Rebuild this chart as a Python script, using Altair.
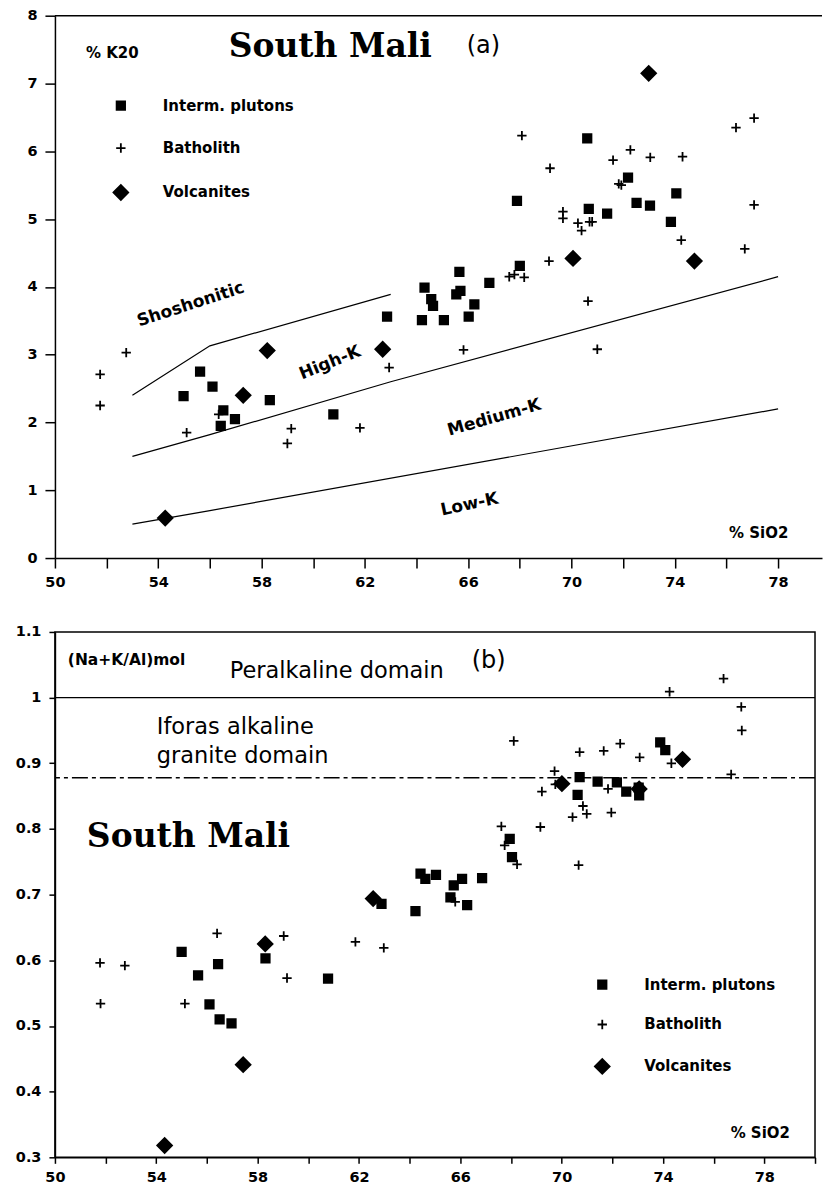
import altair as alt
import pandas as pd

GROUPS = ["Interm. plutons", "Batholith", "Volcanites"]

# ---------------- Panel (a): K2O vs SiO2 ----------------
a_plut_si = [54.98, 55.62, 56.10, 56.52, 56.42, 56.97, 58.32, 60.78, 62.86, 64.31,
             64.57, 64.64, 64.21, 65.06, 65.54, 65.70, 65.66, 66.02, 66.24, 66.82,
             68.00, 67.89, 70.61, 70.67, 71.38, 72.19, 72.52, 73.04, 74.06, 73.85]
a_plut_k = [2.39, 2.75, 2.53, 2.18, 1.95, 2.05, 2.33, 2.12, 3.56, 3.99,
            3.82, 3.72, 3.51, 3.51, 3.89, 3.94, 4.22, 3.56, 3.74, 4.06,
            4.31, 5.27, 6.19, 5.15, 5.08, 5.61, 5.24, 5.20, 5.38, 4.96]
a_bath_si = [51.75, 51.75, 52.76, 55.10, 56.34, 59.15, 59.00, 61.81, 62.94, 65.82,
             67.59, 67.79, 68.17, 68.08, 69.13, 69.17, 69.67, 69.67, 70.25, 70.39,
             70.70, 70.80, 70.64, 71.00, 71.61, 71.83, 71.93, 72.28, 73.05, 74.30,
             74.25, 76.37, 77.07, 77.07, 76.71]
a_bath_k = [2.71, 2.25, 3.03, 1.85, 2.12, 1.91, 1.69, 1.92, 2.81, 3.07,
            4.15, 4.18, 4.14, 6.23, 4.38, 5.75, 5.11, 5.01, 4.94, 4.83,
            4.96, 4.96, 3.79, 3.08, 5.87, 5.52, 5.50, 6.02, 5.91, 5.92,
            4.69, 6.35, 6.49, 5.21, 4.56]
a_volc_si = [54.27, 57.29, 58.22, 62.69, 70.06, 72.99, 74.76]
a_volc_k = [0.59, 2.40, 3.06, 3.08, 4.42, 7.15, 4.38]

# series boundaries (a)
shosh_si = [53, 56, 63]
shosh_k = [2.40, 3.13, 3.89]
highk_si = [53, 56, 63, 78]
highk_k = [1.50, 1.82, 2.60, 4.15]
medk_si = [53, 56, 78]
medk_k = [0.50, 0.70, 2.20]

# ---------------- Panel (b): (Na+K)/Al vs SiO2 ----------------
b_plut_si = [55.00, 55.65, 56.44, 56.10, 56.50, 56.97, 58.31, 60.78, 62.89, 64.23,
             64.43, 64.62, 65.04, 66.07, 66.86, 65.74, 65.61, 66.27, 67.95, 68.04,
             70.63, 70.71, 71.42, 72.18, 72.55, 73.06, 73.04, 73.89, 74.09]
b_plut_r = [0.613, 0.577, 0.594, 0.533, 0.510, 0.504, 0.603, 0.572, 0.686, 0.675,
            0.732, 0.724, 0.730, 0.724, 0.725, 0.714, 0.696, 0.684, 0.785, 0.757,
            0.852, 0.879, 0.872, 0.871, 0.857, 0.851, 0.863, 0.932, 0.920]
b_bath_si = [51.78, 51.80, 52.76, 55.13, 56.40, 59.03, 59.16, 61.86, 62.98, 65.80,
             67.62, 67.75, 68.24, 68.11, 69.16, 69.22, 69.72, 69.75, 70.43, 70.71,
             70.84, 70.99, 70.67, 71.66, 71.83, 71.96, 72.31, 73.08, 74.33, 74.26,
             76.39, 76.69, 77.09, 77.11]
b_bath_r = [0.596, 0.534, 0.592, 0.534, 0.641, 0.637, 0.573, 0.628, 0.619, 0.689,
            0.804, 0.775, 0.746, 0.934, 0.803, 0.857, 0.888, 0.868, 0.818, 0.917,
            0.835, 0.823, 0.745, 0.919, 0.861, 0.825, 0.930, 0.909, 0.900, 1.009,
            1.029, 0.883, 0.986, 0.950]
b_volc_si = [54.33, 57.43, 58.30, 62.56, 70.01, 73.06, 74.77]
b_volc_r = [0.318, 0.441, 0.625, 0.694, 0.869, 0.861, 0.906]

peralk_limit = 1.0
iforas_limit = 0.878

a_xticks = list(range(50, 80, 2))
b_xticks = list(range(50, 81, 2))
a_yticks = list(range(0, 9))
b_yticks = [0.3, 0.4, 0.5, 0.6, 0.7, 0.8, 0.9, 1.0, 1.1]

# ---------------- helpers ----------------
def points_df(sets):
    rows = []
    for g, xs, ys in sets:
        for x, y in zip(xs, ys):
            rows.append({"si": x, "v": y, "group": g})
    return pd.DataFrame(rows)

FONT = "DejaVu Sans"
SERIF = "DejaVu Serif"

shape_scale = alt.Scale(domain=GROUPS,
                        range=["M-0.47,-0.47H0.47V0.47H-0.47Z",
                               "M-0.52,0H0.52M0,-0.52V0.52",
                               "M-0.82,0L0,-0.82L0.82,0L0,0.82Z"])
fill_scale = alt.Scale(domain=GROUPS, range=["black", "transparent", "black"])
stroke_scale = alt.Scale(domain=GROUPS, range=["black", "black", "black"])


def make_panel(df_pts, xdom, ydom, xticks, yticks, yfmt,
               leg_x, leg_y, leg_row, xtick_len, xlab_pad, ytick_len, ylab_pad, yext):
    X = alt.X("si:Q", scale=alt.Scale(domain=xdom, nice=False, zero=False),
              axis=alt.Axis(values=xticks, labelExpr="datum.value % 4 == 2 ? datum.label : ''",
                            title=None, grid=False, tickSize=xtick_len, labelPadding=xlab_pad,
                            format="d", labelFlush=False))
    Y = alt.Y("v:Q", scale=alt.Scale(domain=ydom, nice=False, zero=False),
              axis=alt.Axis(values=yticks, title=None, grid=False, tickSize=ytick_len,
                            labelPadding=ylab_pad, format=yfmt, minExtent=yext, maxExtent=yext))

    def leg():
        return alt.Legend(title=None, orient="none", legendX=leg_x, legendY=leg_y,
                          labelFont=FONT, labelFontWeight="bold", labelFontSize=15,
                          labelColor="black", labelOffset=32, rowPadding=leg_row,
                          symbolSize=324, symbolStrokeWidth=1.8, labelLimit=300)

    pts = alt.Chart(df_pts).mark_point(strokeWidth=1.8, opacity=1, fillOpacity=1,
                                       size=324).encode(
        x=X, y=Y,
        shape=alt.Shape("group:N", scale=shape_scale, legend=leg()),
        fill=alt.Fill("group:N", scale=fill_scale, legend=leg()),
        stroke=alt.Stroke("group:N", scale=stroke_scale, legend=leg()),
    )
    return X, Y, pts


# ---------------- Panel (a) ----------------
df_a = points_df([(GROUPS[0], a_plut_si, a_plut_k),
                  (GROUPS[1], a_bath_si, a_bath_k),
                  (GROUPS[2], a_volc_si, a_volc_k)])
lines_a = pd.DataFrame(
    [{"si": x, "v": y, "line": "shosh"} for x, y in zip(shosh_si, shosh_k)] +
    [{"si": x, "v": y, "line": "highk"} for x, y in zip(highk_si, highk_k)] +
    [{"si": x, "v": y, "line": "medk"} for x, y in zip(medk_si, medk_k)])

Xa, Ya, pts_a = make_panel(df_a, [50, 79.7], [0, 8], a_xticks, a_yticks, "d",
                           56, 80, 24.5, 10, 7, 10, 8, 46)

line_a = alt.Chart(lines_a).mark_line(color="black", strokeWidth=1.2).encode(
    x=Xa, y=Ya, detail="line:N")
top_a = alt.Chart(pd.DataFrame({"v": [8]})).mark_rule(color="black", strokeWidth=1.5).encode(
    y=alt.Y("v:Q", scale=alt.Scale(domain=[0, 8], nice=False, zero=False)))

ann_a_series = pd.DataFrame({"si": [55.26, 60.65, 67.01, 66.05],
                             "v": [3.74, 2.88, 2.07, 0.79],
                             "t": ["Shoshonitic", "High-K", "Medium-K", "Low-K"],
                             "ang": [342, 338, 344, 348]})
series_txt = alt.Chart(ann_a_series).mark_text(font=FONT, fontSize=17, fontWeight="bold",
                                               color="black", align="center",
                                               baseline="middle").encode(
    x=Xa, y=Ya, text="t:N", angle=alt.Angle("ang:Q", scale=None))
title_a = alt.Chart(pd.DataFrame({"si": [60.66], "v": [7.54], "t": ["South Mali"]})).mark_text(
    font=SERIF, fontSize=33, fontWeight="bold", color="black", align="center", baseline="middle"
).encode(x=Xa, y=Ya, text="t:N")
tag_a = alt.Chart(pd.DataFrame({"si": [66.59], "v": [7.56], "t": ["(a)"]})).mark_text(
    font=FONT, fontSize=24, color="black", align="center", baseline="middle"
).encode(x=Xa, y=Ya, text="t:N")
small_a = alt.Chart(pd.DataFrame({"si": [52.22, 77.25], "v": [7.45, 0.37],
                                  "t": ["% K20", "% SiO2"]})).mark_text(
    font=FONT, fontSize=15, fontWeight="bold", color="black", align="center", baseline="middle"
).encode(x=Xa, y=Ya, text="t:N")

panel_a = alt.layer(top_a, line_a, series_txt, title_a, tag_a, small_a, pts_a).properties(
    width=768, height=543, view=alt.ViewBackground(stroke="transparent"))

# ---------------- Panel (b) ----------------
df_b = points_df([(GROUPS[0], b_plut_si, b_plut_r),
                  (GROUPS[1], b_bath_si, b_bath_r),
                  (GROUPS[2], b_volc_si, b_volc_r)])
Xb, Yb, pts_b = make_panel(df_b, [50, 80], [0.3, 1.1], b_xticks, b_yticks, ".1~f",
                           538, 343, 22, 6, 7, 6, 8, 46)

ybs = alt.Scale(domain=[0.3, 1.1], nice=False, zero=False)
per_rule = alt.Chart(pd.DataFrame({"v": [peralk_limit]})).mark_rule(
    color="black", strokeWidth=1.3).encode(y=alt.Y("v:Q", scale=ybs))
ifo_rule = alt.Chart(pd.DataFrame({"v": [iforas_limit]})).mark_rule(
    color="black", strokeWidth=1.3, strokeDash=[16, 4, 4, 4]).encode(y=alt.Y("v:Q", scale=ybs))

big_b = alt.Chart(pd.DataFrame({"si": [56.90, 54.02, 54.02],
                                "v": [1.041, 0.955, 0.911],
                                "t": ["Peralkaline domain", "Iforas alkaline", "granite domain"]})
                  ).mark_text(font=FONT, fontSize=22.5, color="black", align="left",
                              baseline="middle").encode(x=Xb, y=Yb, text="t:N")
tag_b = alt.Chart(pd.DataFrame({"si": [67.12], "v": [1.055], "t": ["(b)"]})).mark_text(
    font=FONT, fontSize=24, color="black", align="center", baseline="middle"
).encode(x=Xb, y=Yb, text="t:N")
title_b = alt.Chart(pd.DataFrame({"si": [51.26], "v": [0.788], "t": ["South Mali"]})).mark_text(
    font=SERIF, fontSize=33, fontWeight="bold", color="black", align="left", baseline="middle"
).encode(x=Xb, y=Yb, text="t:N")
ylab_b = alt.Chart(pd.DataFrame({"si": [50.51], "v": [1.058], "t": ["(Na+K/Al)mol"]})).mark_text(
    font=FONT, fontSize=15.5, fontWeight="bold", color="black", align="left", baseline="middle"
).encode(x=Xb, y=Yb, text="t:N")
xlab_b = alt.Chart(pd.DataFrame({"si": [77.84], "v": [0.337], "t": ["% SiO2"]})).mark_text(
    font=FONT, fontSize=15, fontWeight="bold", color="black", align="center", baseline="middle"
).encode(x=Xb, y=Yb, text="t:N")

panel_b = alt.layer(per_rule, ifo_rule, big_b, tag_b, title_b, ylab_b, xlab_b, pts_b).properties(
    width=761, height=526, view=alt.ViewBackground(stroke="black", strokeWidth=1.5))

chart = alt.vconcat(panel_a, panel_b, spacing=34).resolve_scale(
    x="independent", y="independent", shape="independent", fill="independent",
    stroke="independent"
).resolve_legend(shape="independent", fill="independent", stroke="independent").properties(
    padding={"left": 8, "top": 6, "right": 0, "bottom": 0}
).configure_axis(
    domainColor="black", domainWidth=1.5, tickColor="black", tickWidth=1.5,
    labelFont=FONT, labelFontWeight="bold", labelFontSize=14.5, labelColor="black"
).configure_view(stroke="transparent")

chart.save("out.html", embed_options={"renderer": "svg", "actions": False})
